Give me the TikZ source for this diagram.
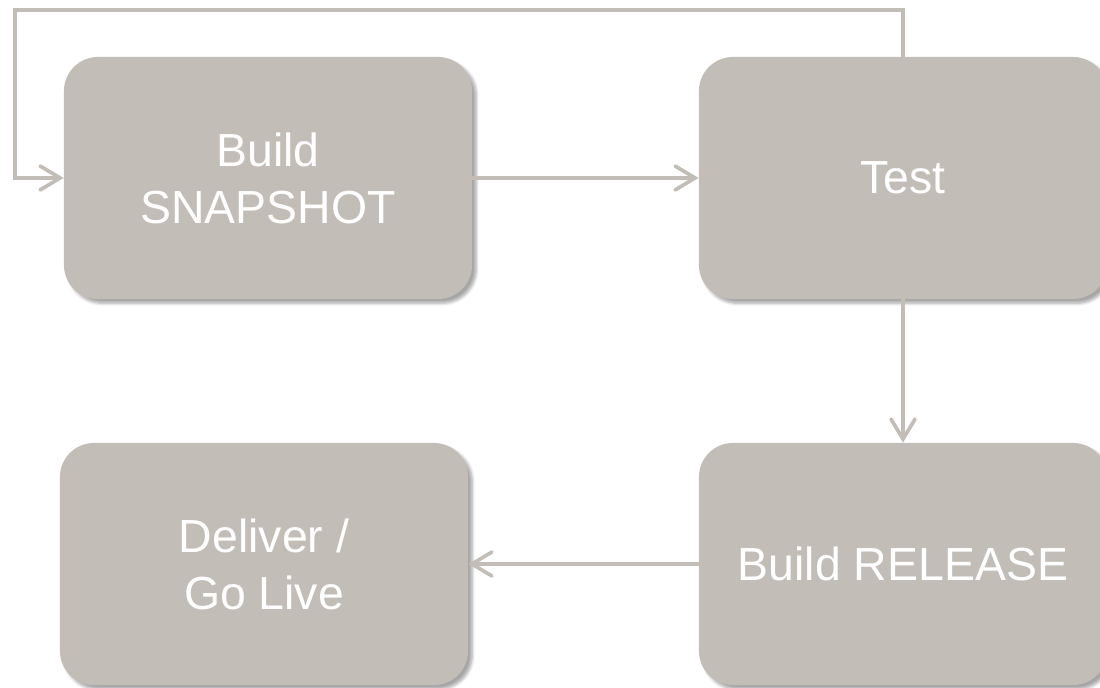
\documentclass[tikz,border=0pt]{standalone}
\usepackage{fontspec}
\setmainfont{Liberation Sans}
\usetikzlibrary{arrows.meta,shadows.blur}
\definecolor{piedra}{HTML}{C2BDB6}

\begin{document}
\begin{tikzpicture}[x=0.025cm, y=-0.025cm]
  \tikzstyle{etapa}=[rectangle, fill=piedra, rounded corners=0.85cm, minimum width=10.2cm, minimum height=6.05cm, text=white, align=center, font=\fontsize{33}{40.5}\selectfont, blur shadow={shadow xshift=3pt, shadow yshift=-3pt, shadow blur steps=6, shadow opacity=35}]
  \tikzstyle{flujo}=[draw=piedra, line width=2.2pt, line cap=round, -{Straight Barb[length=0.5cm, width=0.6cm, line width=2.6pt, line cap=round]}]

  \useasboundingbox (0,0) rectangle (1100,688);
  \clip (0,0) rectangle (1100,688);

  % Etapas
  \node[etapa] (snap) at (268,178) {Build\\SNAPSHOT};
  \node[etapa] (test) at (903,178) {Test};
  \node[etapa] (rel) at (903,564) {Build RELEASE};
  \node[etapa] (live) at (264,564) {Deliver /\\Go Live};

  % Esquina del bucle
  \coordinate (bucle) at (15,10);

  % Conexiones
  \draw[flujo] (snap) -- (test);
  \draw[flujo] (test) -- (rel);
  \draw[flujo] (rel) -- (live);
  \draw[flujo] (test.north) |- (bucle) |- (snap.west);
\end{tikzpicture}
\end{document}
